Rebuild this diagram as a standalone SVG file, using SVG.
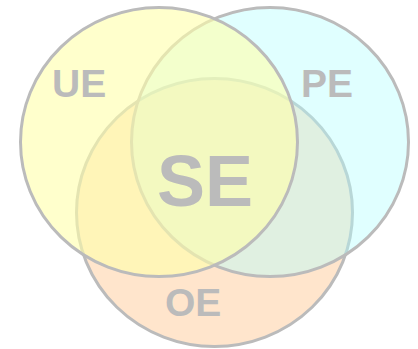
<svg xmlns="http://www.w3.org/2000/svg" width="418" height="349" viewBox="0 0 418 349">
<style>
.c{stroke:#bbbbbb;stroke-width:3}
.t{font-family:"Liberation Sans",Arial,sans-serif;font-weight:bold;fill:#bbbbbb}
</style>
<rect width="418" height="349" fill="#ffffff"/>
<g id="OE">
<ellipse class="c" cx="214.5" cy="212.5" rx="138" ry="134" fill="#ffe5cc"/>
<text class="t" x="165" y="316" font-size="39">OE</text>
</g>
<g id="PE">
<ellipse class="c" cx="270" cy="142" rx="138.5" ry="134.5" fill="#b3ffff" fill-opacity="0.41"/>
<text class="t" x="301" y="97" font-size="39">PE</text>
</g>
<g id="UE">
<ellipse class="c" cx="159" cy="142" rx="138.5" ry="134.5" fill="#ffffaa" fill-opacity="0.6"/>
<text class="t" x="52" y="97" font-size="39">UE</text>
</g>
<g id="SE">
<text class="t" x="157" y="206" font-size="72">SE</text>
</g>
</svg>
